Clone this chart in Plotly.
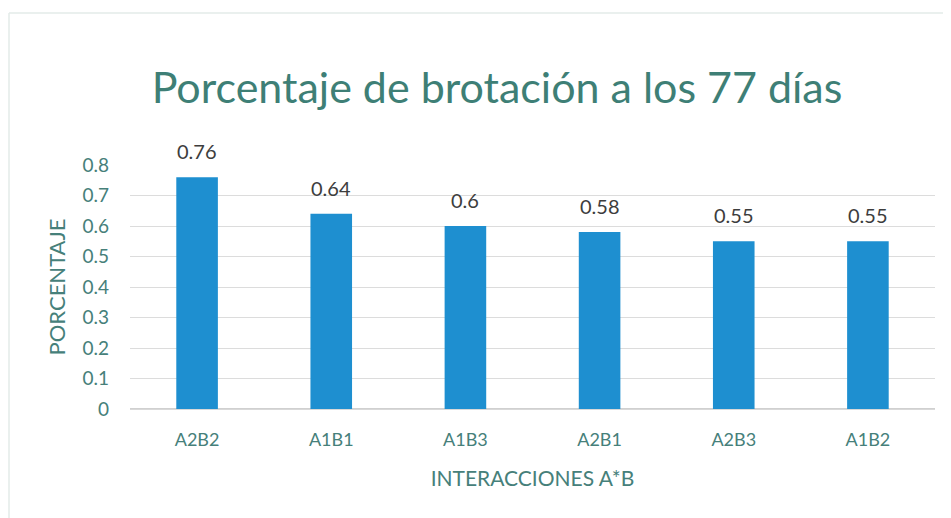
import plotly.graph_objects as go

categories = ["A2B2", "A1B1", "A1B3", "A2B1", "A2B3", "A1B2"]
values = [0.76, 0.64, 0.6, 0.58, 0.55, 0.55]
tick_vals = [0, 0.1, 0.2, 0.3, 0.4, 0.5, 0.6, 0.7, 0.8]
tick_text = ["0", "0.1", "0.2", "0.3", "0.4", "0.5", "0.6", "0.7", "0.8"]

FONT = "Lato"
TXT = "#46807a"

W, H = 943, 510
L, R, T, B = 122, 16, 157, 109
PW, PH = W - L - R, H - T - B

fig = go.Figure(go.Bar(
    x=categories, y=values,
    marker=dict(color="#1e8fd0", line=dict(width=0)),
    width=0.31,
    hoverinfo="x+y",
))

for c, v in zip(categories, values):
    fig.add_annotation(x=c, y=v, text=str(v), showarrow=False,
                       yanchor="bottom", yshift=12,
                       font=dict(family=FONT, size=20, color="#3d3d3d"))

fig.update_layout(
    width=W, height=H,
    margin=dict(l=L, r=R, t=T, b=B),
    paper_bgcolor="white", plot_bgcolor="white",
    title=dict(text="Porcentaje de brotación a los 77 días",
               x=(497 - 8) / W, xanchor="center", y=1 - (88 - 8) / H, yanchor="middle",
               font=dict(family=FONT, size=43, color="#3e7f76")),
    showlegend=False,
    bargap=0.69,
    xaxis=dict(tickfont=dict(family=FONT, size=18, color=TXT),
               title=dict(text="INTERACCIONES A*B", font=dict(family=FONT, size=21, color=TXT), standoff=22),
               showline=True, linecolor="#d9d9d9", ticks="", ticklabelstandoff=14),
    yaxis=dict(range=[0, 0.8], tickvals=tick_vals, ticktext=tick_text,
               tickfont=dict(family=FONT, size=19, color=TXT),
               title=dict(text="PORCENTAJE", font=dict(family=FONT, size=22, color=TXT), standoff=10),
               showgrid=True, gridcolor="#dcdcdc", zeroline=True, zerolinecolor="#d0d0d0",
               ticks="", ticklabelstandoff=20),
)

x_left = -L / PW
x_right = 1 + R / PW
y_top = 1 + (T - 5) / PH
y_bot = -B / PH
fig.add_shape(type="line", xref="paper", yref="paper",
              x0=x_left + 1 / PW, x1=x_right, y0=y_top, y1=y_top,
              line=dict(color="#e3ebe9", width=1.5))
fig.add_shape(type="line", xref="paper", yref="paper",
              x0=x_left + 1 / PW, x1=x_left + 1 / PW, y0=y_bot, y1=y_top,
              line=dict(color="#e3ebe9", width=1.5))
fig.write_html("out.html")
